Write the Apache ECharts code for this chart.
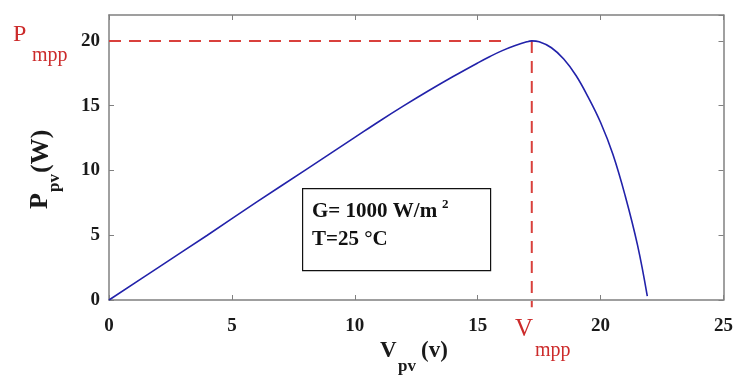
<!DOCTYPE html>
<html>
<head>
<meta charset="utf-8">
<script src="https://cdn.jsdelivr.net/npm/echarts@6/dist/echarts.min.js"></script>
<style>
html,body{margin:0;padding:0;background:#fff;}
#chart{width:736px;height:376px;}
</style>
</head>
<body>
<div id="chart"></div>
<script>
// Data
var voltage = [0, 2, 4, 6, 8, 10, 11, 12, 13, 14, 15, 15.5, 16, 16.5, 17, 17.2, 17.5, 18, 18.5, 19, 19.5, 20, 20.5, 21, 21.5, 21.9];
var power   = [0, 2.5, 5.0, 7.55, 10.05, 12.55, 13.8, 15.0, 16.15, 17.25, 18.3, 18.8, 19.25, 19.62, 19.93, 20.0, 19.93, 19.47, 18.6, 17.33, 15.64, 13.7, 11.25, 8.05, 4.25, 0.3];
var vmpp = 17.2;
var pmpp = 20;
var hDashEnd = 16.0;
var vDashBottom = -0.55;
var xTicks = [0, 5, 10, 15, 20, 25];
var yTicks = [0, 5, 10, 15, 20];
var boxLine1 = 'G= 1000 W/m';
var boxSup = '2';
var boxLine2 = 'T=25 °C';

var curve = voltage.map(function (v, i) { return [v, power[i]]; });
var hDash = [[0, pmpp], [hDashEnd, pmpp]];
var vDash = [[vmpp, pmpp], [vmpp, vDashBottom]];

var SERIF = '"Liberation Serif", "DejaVu Serif", serif';
var RED = '#cc2b2b';
var AXIS = '#808080';

var chart = echarts.init(document.getElementById('chart'), null, {renderer: 'canvas'});

function xAx(pos, show) {
  return {
    type: 'value', position: pos, min: xTicks[0], max: xTicks[xTicks.length - 1], interval: 5,
    axisLine: {show: true, onZero: false, lineStyle: {color: AXIS, width: 1.5}},
    axisTick: {show: true, inside: true, length: 5, lineStyle: {color: AXIS, width: 1}},
    splitLine: {show: false},
    axisLabel: {show: show, margin: 17, color: '#1a1a1a', fontFamily: SERIF, fontWeight: 'bold', fontSize: 19}
  };
}
function yAx(pos, show) {
  return {
    type: 'value', position: pos, min: 0, max: 22, interval: 5,
    axisLine: {show: true, onZero: false, lineStyle: {color: AXIS, width: 1.5}},
    axisTick: {show: true, inside: true, length: 5, lineStyle: {color: AXIS, width: 1}},
    splitLine: {show: false},
    axisLabel: {show: show, margin: 9, showMaxLabel: false, color: '#1a1a1a', fontFamily: SERIF, fontWeight: 'bold', fontSize: 19,
      formatter: function (v) { return yTicks.indexOf(v) >= 0 ? String(v) : ''; }}
  };
}

var option = {
  backgroundColor: '#fff',
  animation: false,
  grid: {left: 109, right: 11, top: 15, bottom: 76, containLabel: false},
  xAxis: [xAx('bottom', true), xAx('top', false)],
  yAxis: [yAx('left', true), yAx('right', false)],
  series: [
    {type: 'line', data: hDash, xAxisIndex: 0, yAxisIndex: 0, showSymbol: false, clip: false, z: 3,
      lineStyle: {color: '#d9403c', width: 2, type: [12, 8]}},
    {type: 'line', data: vDash, xAxisIndex: 0, yAxisIndex: 0, showSymbol: false, clip: false, z: 3,
      lineStyle: {color: '#d9403c', width: 2, type: [12, 8]}},
    {type: 'line', data: curve, xAxisIndex: 0, yAxisIndex: 0, showSymbol: false, smooth: 0.4, z: 4,
      lineStyle: {color: '#2222aa', width: 1.6}}
  ],
  graphic: [
    // text box
    {type: 'rect', left: 302, top: 188, shape: {x: 0, y: 0, width: 188, height: 82},
      style: {fill: '#fff', stroke: '#111', lineWidth: 1.2}, z: 10},
    {type: 'text', x: 312, y: 212, z: 11, style: {text: boxLine1, font: 'bold 21px ' + SERIF, fill: '#111', verticalAlign: 'middle'}},
    {type: 'text', x: 442, y: 205, z: 11, style: {text: boxSup, font: 'bold 13px ' + SERIF, fill: '#111', verticalAlign: 'middle'}},
    {type: 'text', x: 312, y: 240, z: 11, style: {text: boxLine2, font: 'bold 21px ' + SERIF, fill: '#111', verticalAlign: 'middle'}},
    // P_mpp
    {type: 'text', x: 13, y: 35, z: 11, style: {text: 'P', font: '24px ' + SERIF, fill: RED, verticalAlign: 'middle'}},
    {type: 'text', x: 32, y: 56, z: 11, style: {text: 'mpp', font: '20px ' + SERIF, fill: RED, verticalAlign: 'middle'}},
    // V_mpp
    {type: 'text', x: 515, y: 329, z: 11, style: {text: 'V', font: '25px ' + SERIF, fill: RED, verticalAlign: 'middle'}},
    {type: 'text', x: 535, y: 351, z: 11, style: {text: 'mpp', font: '20px ' + SERIF, fill: RED, verticalAlign: 'middle'}},
    // x title
    {type: 'text', x: 380, y: 351, z: 11, style: {text: 'V', font: 'bold 23px ' + SERIF, fill: '#1a1a1a', verticalAlign: 'middle'}},
    {type: 'text', x: 398, y: 367, z: 11, style: {text: 'pv', font: 'bold 17px ' + SERIF, fill: '#1a1a1a', verticalAlign: 'middle'}},
    {type: 'text', x: 421, y: 351, z: 11, style: {text: '(v)', font: 'bold 23px ' + SERIF, fill: '#1a1a1a', verticalAlign: 'middle'}},
    // y title (rotated)
    {type: 'group', x: 40, y: 209, rotation: Math.PI / 2, z: 11, children: [
      {type: 'text', x: 0, y: 0, style: {text: 'P', font: 'bold 26px ' + SERIF, fill: '#1a1a1a', verticalAlign: 'middle'}},
      {type: 'text', x: 17, y: 15, style: {text: 'pv', font: 'bold 17px ' + SERIF, fill: '#1a1a1a', verticalAlign: 'middle'}},
      {type: 'text', x: 36, y: 1, style: {text: '(W)', font: 'bold 26px ' + SERIF, fill: '#1a1a1a', verticalAlign: 'middle'}}
    ]}
  ]
};
chart.setOption(option);
</script>
</body>
</html>
